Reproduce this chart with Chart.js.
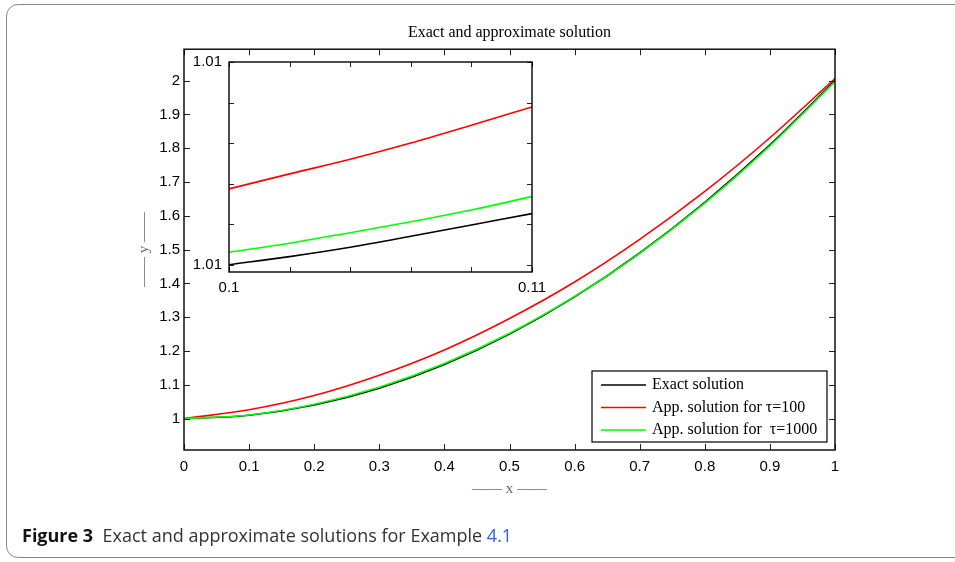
<!DOCTYPE html>
<html>
<head>
<meta charset="utf-8">
<script src="https://cdn.jsdelivr.net/npm/chart.js@4.4.1/dist/chart.umd.min.js"></script>
<style>
body { margin: 0; background: #fff; }
#wrap { position: relative; width: 955px; height: 562px; overflow: hidden; background: #fff; }
#frame { position: absolute; left: 6px; top: 4px; width: 1000px; height: 552px; border: 1px solid #888; border-radius: 12px; }
#wrap canvas { position: absolute; left: 0; top: 0; }
#caption { position: absolute; left: 22px; top: 523px; font-family: "Open Sans", sans-serif; font-size: 18px; color: #333; white-space: pre; }
#caption b { color: #111; font-weight: bold; }
#caption span { color: #2f5fe8; }
</style>
</head>
<body>
<div id="wrap">
  <div id="frame"></div>
  <canvas id="main_chart" width="955" height="562"></canvas>
  <canvas id="inset_chart" width="955" height="562"></canvas>
  <div id="caption"><b>Figure 3</b>  Exact and approximate solutions for Example <span>4.1</span></div>
</div>
<script>
// main plot data
var xValues = [0, 0.1, 0.2, 0.3, 0.4, 0.5, 0.6, 0.7, 0.8, 0.9, 1];
var exactValues = [1, 1.01, 1.04, 1.09, 1.16, 1.25, 1.36, 1.49, 1.64, 1.81, 2.0];
var app100Values = [1, 1.026, 1.068, 1.128, 1.203, 1.296, 1.404, 1.530, 1.672, 1.831, 2.006];
var app1000Values = [1, 1.0105, 1.0425, 1.093, 1.163, 1.2525, 1.3615, 1.489, 1.6375, 1.807, 1.997];
var xTicks = [0, 0.1, 0.2, 0.3, 0.4, 0.5, 0.6, 0.7, 0.8, 0.9, 1];
var yTicks = [1, 1.1, 1.2, 1.3, 1.4, 1.5, 1.6, 1.7, 1.8, 1.9, 2];

// zoomed part (inset)
var insetX = [0.1, 0.102, 0.104, 0.106, 0.108, 0.11];
var insetExact = [1.00600, 1.00620, 1.00643, 1.00670, 1.00698, 1.00726];
var insetApp100 = [1.00787, 1.00824, 1.00860, 1.00900, 1.00944, 1.00989];
var insetApp1000 = [1.00631, 1.00653, 1.00679, 1.00706, 1.00735, 1.00768];
var insetXTicks = [0.1, 0.102, 0.104, 0.106, 0.108, 0.11];
var insetYTicks = [1.006, 1.007, 1.008, 1.009, 1.010, 1.011];

var seriesNames = ['Exact solution', 'App. solution for \u03c4=100', 'App. solution for  \u03c4=1000'];
var seriesColors = ['#000000', '#ff0000', '#00ff00'];

function toPoints(xs, ys) {
    return xs.map(function (x, i) { return { x: x, y: ys[i] }; });
}

function makeDatasets(xs, a, b, c) {
    var ys = [a, b, c];
    var order = [2, 1, 0];
    return ys.map(function (d, i) {
        return {
            label: seriesNames[i],
            data: toPoints(xs, d),
            borderColor: seriesColors[i],
            borderWidth: 1.6,
            pointRadius: 0,
            cubicInterpolationMode: 'monotone',
            order: order[i]
        };
    });
}

// box round the plot area with inward ticks on all sides
var boxTicks = {
    id: 'boxTicks',
    beforeDraw: function (chart, args, opts) {
        if (opts.fill) {
            var a = chart.chartArea;
            chart.ctx.save();
            chart.ctx.fillStyle = '#fff';
            chart.ctx.fillRect(a.left, a.top, a.right - a.left, a.bottom - a.top);
            chart.ctx.restore();
        }
    },
    afterDatasetsDraw: function (chart, args, opts) {
        var c = chart.ctx, a = chart.chartArea, len = opts.len;
        var sx = chart.scales.x, sy = chart.scales.y;
        c.save();
        c.strokeStyle = '#222';
        c.lineWidth = 1;
        c.beginPath();
        sx.ticks.forEach(function (t) {
            var px = Math.round(sx.getPixelForValue(t.value)) + 0.5;
            c.moveTo(px, a.bottom); c.lineTo(px, a.bottom - len);
            c.moveTo(px, a.top); c.lineTo(px, a.top + len);
        });
        sy.ticks.forEach(function (t) {
            var py = Math.round(sy.getPixelForValue(t.value)) + 0.5;
            c.moveTo(a.left, py); c.lineTo(a.left + len, py);
            c.moveTo(a.right, py); c.lineTo(a.right - len, py);
        });
        c.stroke();
        c.strokeStyle = '#000';
        c.lineWidth = 1.4;
        c.strokeRect(a.left, a.top, a.right - a.left, a.bottom - a.top);
        c.restore();
    }
};

// legend box inside the plot
var legendBox = {
    id: 'legendBox',
    afterDraw: function (chart, args, opts) {
        if (!opts.show) return;
        var c = chart.ctx;
        c.save();
        c.fillStyle = '#fff';
        c.fillRect(opts.x, opts.y, opts.w, opts.h);
        c.strokeStyle = '#000';
        c.lineWidth = 1.2;
        c.strokeRect(opts.x, opts.y, opts.w, opts.h);
        c.font = '16px "Liberation Serif", serif';
        c.textBaseline = 'middle';
        chart.data.datasets.forEach(function (ds, i) {
            var yy = opts.y + opts.first + i * opts.step;
            c.strokeStyle = ds.borderColor;
            c.lineWidth = 1.6;
            c.beginPath();
            c.moveTo(opts.x + 9, yy); c.lineTo(opts.x + 54, yy);
            c.stroke();
            c.fillStyle = '#000';
            c.fillText(ds.label, opts.x + 60, yy);
        });
        c.restore();
    }
};

function fmt(v) {
    return String(Number(v.toFixed(3)));
}

var tickFont = { family: '"Liberation Sans", Arial, sans-serif', size: 15 };

var ctx = document.getElementById('main_chart').getContext('2d');
new Chart(ctx, {
    type: 'line',
    data: {
        datasets: makeDatasets(xValues, exactValues, app100Values, app1000Values)
    },
    options: {
        responsive: false,
        animation: false,
        layout: { padding: { left: 131, right: 120, top: 12, bottom: 60 } },
        plugins: {
            legend: { display: false },
            tooltip: { enabled: false },
            title: {
                display: true,
                text: 'Exact and approximate solution',
                fullSize: false,
                color: '#000',
                font: { family: '"Liberation Serif", serif', size: 16, weight: 'normal' },
                padding: { top: 11, bottom: 7 }
            },
            boxTicks: { len: 6 },
            legendBox: { show: true, x: 592, y: 371, w: 235, h: 71, first: 14, step: 22.5 }
        },
        scales: {
            x: {
                type: 'linear',
                min: 0,
                max: 1,
                grid: { display: false, drawTicks: false },
                border: { display: false },
                afterBuildTicks: function (s) { s.ticks = xTicks.map(function (v) { return { value: v }; }); },
                afterFit: function (s) { s.height = 52; },
                ticks: {
                    padding: 8,
                    color: '#000',
                    font: tickFont,
                    callback: function (v) { return fmt(v); }
                },
                title: {
                    display: true,
                    text: '\u2014\u2014 x \u2014\u2014',
                    color: '#666',
                    font: { family: '"Liberation Serif", serif', size: 15 }
                }
            },
            y: {
                type: 'linear',
                min: 0.907,
                max: 2.093,
                grid: { display: false, drawTicks: false },
                border: { display: false },
                afterBuildTicks: function (s) { s.ticks = yTicks.map(function (v) { return { value: v }; }); },
                afterFit: function (s) { s.width = 53; },
                ticks: {
                    padding: 4,
                    color: '#000',
                    font: tickFont,
                    callback: function (v) { return fmt(v); }
                },
                title: {
                    display: true,
                    text: '\u2014\u2014 y \u2014\u2014',
                    color: '#666',
                    font: { family: '"Liberation Serif", serif', size: 15 }
                }
            }
        }
    },
    plugins: [boxTicks, legendBox]
});

var ctx2 = document.getElementById('inset_chart').getContext('2d');
new Chart(ctx2, {
    type: 'line',
    data: {
        datasets: makeDatasets(insetX, insetExact, insetApp100, insetApp1000)
    },
    options: {
        responsive: false,
        animation: false,
        layout: { padding: { left: 189, right: 423, top: 62, bottom: 260 } },
        plugins: {
            legend: { display: false },
            tooltip: { enabled: false },
            boxTicks: { len: 5, fill: true },
            legendBox: { show: false }
        },
        scales: {
            x: {
                type: 'linear',
                min: 0.1,
                max: 0.11,
                grid: { display: false, drawTicks: false },
                border: { display: false },
                afterBuildTicks: function (s) { s.ticks = insetXTicks.map(function (v) { return { value: v }; }); },
                afterFit: function (s) { s.height = 30; },
                ticks: {
                    padding: 7,
                    color: '#000',
                    font: tickFont,
                    // only the ends get a label
                    callback: function (v, i, t) { return (i === 0 || i === t.length - 1) ? fmt(v) : ''; }
                }
            },
            y: {
                type: 'linear',
                min: 1.00582,
                max: 1.011,
                grid: { display: false, drawTicks: false },
                border: { display: false },
                afterBuildTicks: function (s) { s.ticks = insetYTicks.map(function (v) { return { value: v }; }); },
                afterFit: function (s) { s.width = 40; },
                ticks: {
                    padding: 7,
                    color: '#000',
                    font: tickFont,
                    callback: function (v, i, t) { return (i === 0 || i === t.length - 1) ? v.toFixed(2) : ''; }
                }
            }
        }
    },
    plugins: [boxTicks]
});
</script>
</body>
</html>
